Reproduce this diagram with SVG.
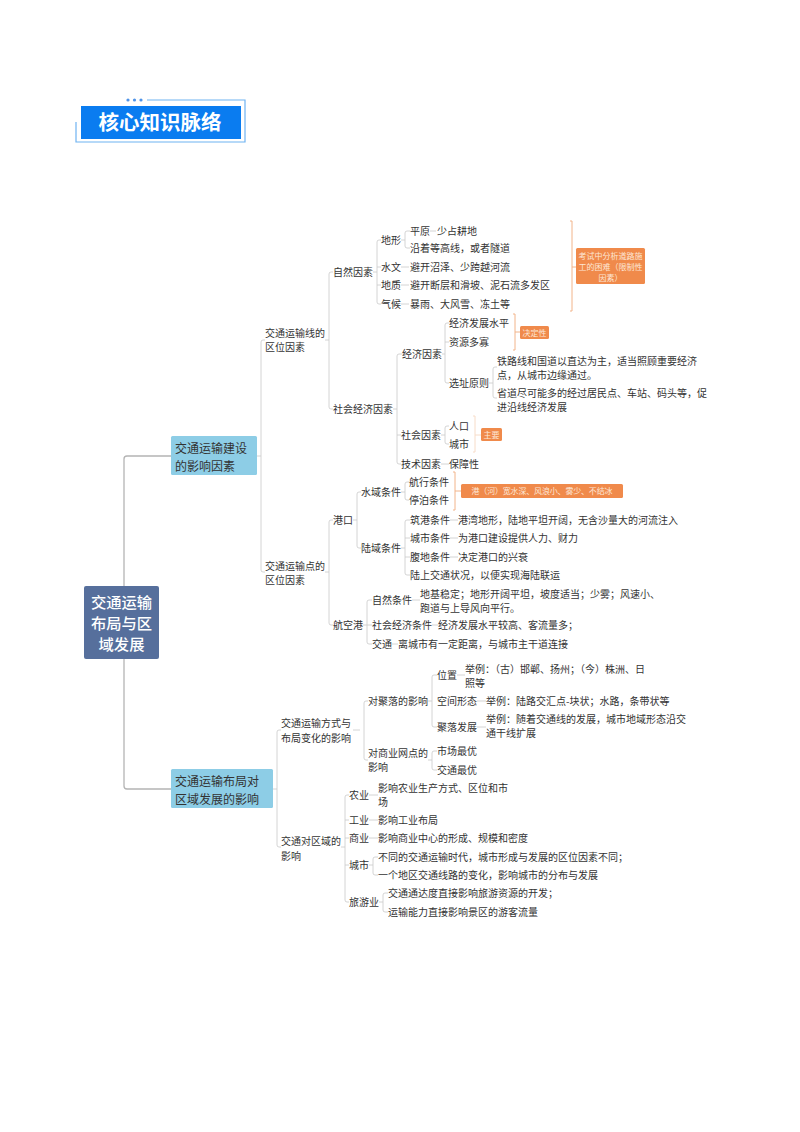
<svg xmlns="http://www.w3.org/2000/svg" width="800" height="1132" viewBox="0 0 800 1132">
<style>
text{font-family:"Noto Sans CJK SC","Liberation Sans",sans-serif;font-size:10px;fill:#333}
.l2{font-size:12px;fill:#333}
.root{font-size:15.3px;fill:#fff;font-weight:500;text-anchor:middle}
.title{font-size:20.5px;fill:#fff;font-weight:700;text-anchor:middle}
.note{font-size:8px;fill:#fde6d6;text-anchor:middle}
.box{fill:#f08a4b}
.l{fill:none;stroke:#c9c9c9;stroke-width:.8;stroke-linejoin:round}
.m{fill:none;stroke:#b4b4b4;stroke-width:1.3}
.o{fill:none;stroke:#f2b48a;stroke-width:1}
.ol{fill:none;stroke:#f7dcc8;stroke-width:1}
.t{fill:none;stroke:#6fb3f2;stroke-width:1.2}
</style>
<g id="title">
<path class="t" d="M147 100H245V142H76V122"/>
<circle cx="128" cy="100" r="1.6" fill="#4f93e8"/><circle cx="134.500" cy="100" r="1.600" fill="#4f93e8"/><circle cx="141" cy="100" r="1.600" fill="#4f93e8"/>
<rect x="81" y="106" width="160" height="33" fill="#0a7cf0"/>
<text class="title" x="160" y="130">核心知识脉络</text>
</g>
<g id="connectors">
<path class="m" d="M124 586V459Q124 456 127 456H171M124 659V786Q124 789 127 789H171"/>
<path class="l" d="M257 456H261M265 340H263Q261 340 261 342V570Q261 572 263 572H265"/>
<path class="l" d="M325 340H329M333 272H331Q329 272 329 274V407Q329 409 331 409H333"/>
<path class="l" d="M373 272H377M381 240H379Q377 240 377 242V302Q377 304 379 304H381M377 267H381M377 285H381"/>
<path class="l" d="M401 240H405M410 231H407Q405 231 405 233V246Q405 248 407 248H410M430 231H436M401 267H409M401 285H409M401 304H409"/>
<path class="l" d="M393 409H397M402 354H399Q397 354 397 356V462Q397 464 399 464H401M397 435H401"/>
<path class="l" d="M442 354H445M449 323H447Q445 323 445 325V381Q445 383 447 383H449M445 342H449"/>
<path class="l" d="M489 383H493M497 367H495Q493 367 493 369V396Q493 398 495 398H497"/>
<path class="l" d="M441 435H445M449 426H447Q445 426 445 428V442Q445 444 447 444H449M441 464H449"/>
<path class="l" d="M325 572H329M333 520H331Q329 520 329 522V623Q329 625 331 625H333"/>
<path class="l" d="M353 520H357M361 492H359Q357 492 357 494V546Q357 548 359 548H361"/>
<path class="l" d="M401 492H405M409 482H407Q405 482 405 484V498Q405 500 407 500H409"/>
<path class="l" d="M401 548H405M410 520H407Q405 520 405 522V573Q405 575 407 575H410M405 538H410M405 557H410"/>
<path class="l" d="M450 520H458M450 538H458M450 557H458"/>
<path class="l" d="M363 625H367M372 600H369Q367 600 367 602V642Q367 644 369 644H372M367 625H372M412 600H420M432 625H438M392 644H398"/>
<path class="l" d="M273 789H277M281 730H279Q277 730 277 732V845Q277 847 279 847H281"/>
<path class="l" d="M353 730H360M368 701H366Q364 701 364 703V758Q364 760 366 760H368"/>
<path class="l" d="M428 701H432M437 675H434Q432 675 432 677V725Q432 727 434 727H437M457 675H465M477 701H486M477 727H486"/>
<path class="l" d="M428 760H432M437 751H434Q432 751 432 753V768Q432 770 434 770H437"/>
<path class="l" d="M341 847H345M349 795H347Q345 795 345 797V900Q345 902 347 902H349M345 820H349M345 838H349M345 865H349"/>
<path class="l" d="M369 795H378M369 820H378M369 838H378M369 865H373M378 857H375Q373 857 373 859V873Q373 875 375 875H378M379 902H383M388 893H385Q383 893 383 895V910Q383 912 385 912H388"/>
<path class="o" d="M570 221H572V311H570M572 267H576"/>
<path class="o" d="M513 314H515V350H513M515 332H520"/>
<path class="ol" d="M473 416H475V452H473M475 435H481"/>
<path class="o" d="M453 472H455V510H453M455 491H461"/>
</g>
<g id="root"><rect x="84" y="586" width="75" height="73" rx="2" fill="#566f9c"/><text class="root" x="121.500" y="607.500">交通运输</text><text class="root" x="121.500" y="628.500">布局与区</text><text class="root" x="121.500" y="650">域发展</text></g>
<g id="branch1"><rect x="171" y="436" width="86" height="39" rx="1.500" fill="#8dcde6"/><text class="l2" x="175" y="453">交通运输建设</text><text class="l2" x="175" y="470.500">的影响因素</text></g>
<g id="branch2"><rect x="171" y="769" width="102" height="39" rx="1.500" fill="#8dcde6"/><text class="l2" x="175" y="786">交通运输布局对</text><text class="l2" x="175" y="804">区域发展的影响</text></g>
<g id="line-factors"><text x="265" y="337">交通运输线的</text><text x="265" y="351">区位因素</text></g>
<g id="natural"><text x="333" y="276">自然因素</text></g>
<g id="landform"><text x="381" y="244">地形</text><text x="410" y="235">平原</text><text x="437" y="235">少占耕地</text><text x="410" y="252">沿着等高线，或者隧道</text></g>
<g id="hydro"><text x="381" y="271">水文</text><text x="410" y="271">避开沼泽、少跨越河流</text></g>
<g id="geology"><text x="381" y="289">地质</text><text x="410" y="289">避开断层和滑坡、泥石流多发区</text></g>
<g id="climate"><text x="381" y="308">气候</text><text x="410" y="308">暴雨、大风雪、冻土等</text></g>
<g id="note-exam"><rect class="box" x="576" y="248" width="69" height="36" rx="1.500"/><text class="note" x="610.500" y="258.500">考试中分析道路施</text><text class="note" x="610.500" y="269.500">工的困难（限制性</text><text class="note" x="610.500" y="280.500">因素）</text></g>
<g id="social-econ"><text x="333" y="413">社会经济因素</text></g>
<g id="econ"><text x="402" y="358">经济因素</text><text x="449" y="327">经济发展水平</text><text x="449" y="346">资源多寡</text></g>
<g id="note-decisive"><rect class="box" x="520" y="326" width="29" height="13" rx="1.500"/><text class="note" x="534.500" y="335.500">决定性</text></g>
<g id="siting"><text x="449" y="387">选址原则</text><text x="497" y="365">铁路线和国道以直达为主，适当照顾重要经济</text><text x="497" y="379">点，从城市边缘通过。</text><text x="497" y="397">省道尽可能多的经过居民点、车站、码头等，促</text><text x="497" y="411">进沿线经济发展</text></g>
<g id="society"><text x="401" y="439">社会因素</text><text x="449" y="430">人口</text><text x="449" y="448">城市</text></g>
<g id="note-main"><rect class="box" x="481" y="428" width="21" height="13" rx="1.500"/><text class="note" x="491.500" y="437.500">主要</text></g>
<g id="tech"><text x="401" y="468">技术因素</text><text x="449" y="468">保障性</text></g>
<g id="point-factors"><text x="265" y="570">交通运输点的</text><text x="265" y="584">区位因素</text></g>
<g id="port"><text x="333" y="524">港口</text></g>
<g id="water"><text x="361" y="496">水域条件</text><text x="409" y="486">航行条件</text><text x="409" y="504">停泊条件</text></g>
<g id="note-water"><rect class="box" x="461" y="484" width="162" height="14" rx="1.500"/><text class="note" x="542" y="494" textLength="141">港（河）宽水深、风浪小、雾少、不结冰</text></g>
<g id="land"><text x="361" y="552">陆域条件</text><text x="410" y="524">筑港条件</text><text x="458" y="524">港湾地形，陆地平坦开阔，无含沙量大的河流注入</text><text x="410" y="542">城市条件</text><text x="458" y="542">为港口建设提供人力、财力</text><text x="410" y="561">腹地条件</text><text x="458" y="561">决定港口的兴衰</text><text x="410" y="579">陆上交通状况，以便实现海陆联运</text></g>
<g id="airport"><text x="333" y="629">航空港</text><text x="372" y="604">自然条件</text><text x="420" y="598">地基稳定；地形开阔平坦，坡度适当；少雾；风速小、</text><text x="420" y="612">跑道与上导风向平行。</text><text x="372" y="629">社会经济条件</text><text x="438" y="629">经济发展水平较高、客流量多；</text><text x="372" y="648">交通</text><text x="398" y="648">离城市有一定距离，与城市主干道连接</text></g>
<g id="mode"><text x="281" y="727">交通运输方式与</text><text x="281" y="742">布局变化的影响</text></g>
<g id="settlement"><text x="368" y="705">对聚落的影响</text><text x="437" y="679">位置</text><text x="465" y="673">举例：（古）邯郸、扬州；（今）株洲、日</text><text x="465" y="687">照等</text><text x="437" y="705">空间形态</text><text x="486" y="705">举例：陆路交汇点-块状；水路，条带状等</text><text x="437" y="731">聚落发展</text><text x="486" y="723">举例：随着交通线的发展，城市地域形态沿交</text><text x="486" y="737">通干线扩展</text></g>
<g id="commerce"><text x="368" y="757">对商业网点的</text><text x="368" y="771">影响</text><text x="437" y="755">市场最优</text><text x="437" y="774">交通最优</text></g>
<g id="region"><text x="281" y="845">交通对区域的</text><text x="281" y="860">影响</text></g>
<g id="agri"><text x="349" y="799">农业</text><text x="378" y="792">影响农业生产方式、区位和市</text><text x="378" y="806">场</text></g>
<g id="industry"><text x="349" y="824">工业</text><text x="378" y="824">影响工业布局</text></g>
<g id="trade"><text x="349" y="842">商业</text><text x="378" y="842">影响商业中心的形成、规模和密度</text></g>
<g id="city"><text x="349" y="869">城市</text><text x="378" y="861">不同的交通运输时代，城市形成与发展的区位因素不同；</text><text x="378" y="879">一个地区交通线路的变化，影响城市的分布与发展</text></g>
<g id="tourism"><text x="349" y="906">旅游业</text><text x="388" y="897">交通通达度直接影响旅游资源的开发；</text><text x="388" y="916">运输能力直接影响景区的游客流量</text></g>
</svg>
